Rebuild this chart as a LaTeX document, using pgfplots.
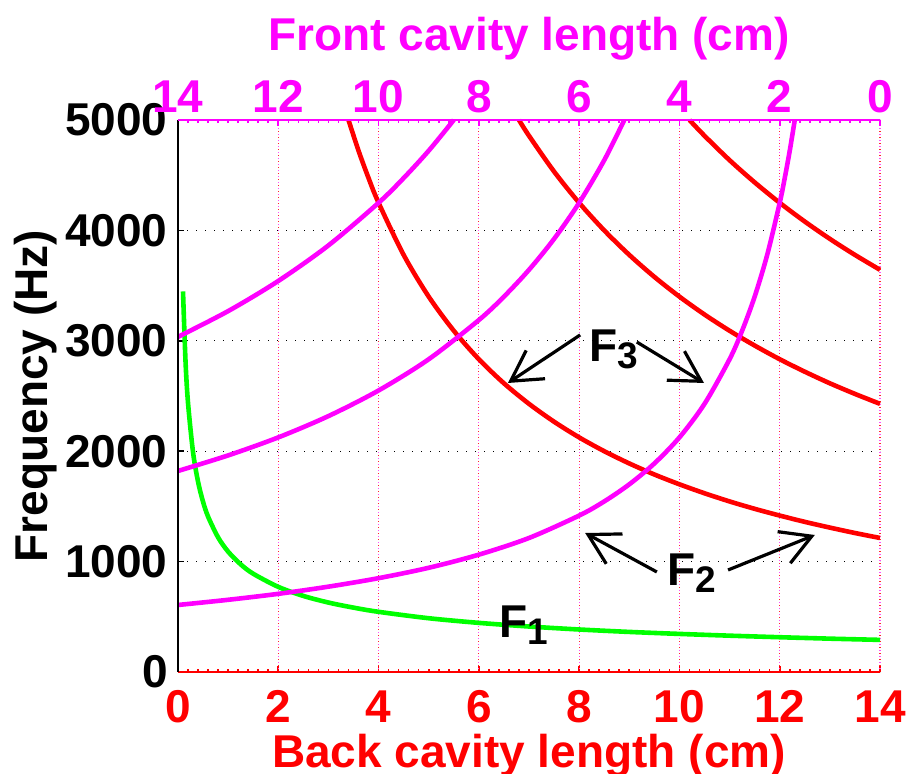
\documentclass[border=0pt]{standalone}
\usepackage{fontspec}
\setmainfont{Liberation Sans}
\usepackage{pgfplots}
\pgfplotsset{compat=1.18}
\usetikzlibrary{arrows.meta}
\definecolor{mag}{RGB}{255,0,255}
\definecolor{rd}{RGB}{255,0,0}
\definecolor{gr}{RGB}{0,255,0}
\newcommand{\bigf}{\fontsize{23}{27}\selectfont\bfseries}
\newcommand{\subf}[1]{\raisebox{-3.5pt}{\fontsize{18.5}{20}\selectfont\bfseries #1}}
\begin{document}
\begin{tikzpicture}
\pgfplotsset{
 common/.style={
  scale only axis, width=351pt, height=276pt, at={(0pt,0pt)}, anchor=south west,
  xmin=0, xmax=14, ymin=0, ymax=5000,
  axis line style={draw=none},
  tick align=inside,
  major tick length=3pt, minor tick length=1.5pt,
  tick style={line width=0.8pt},
  tick label style={font=\bigf},
  label style={font=\bigf},
  xtick={0,2,4,6,8,10,12,14},
  minor x tick num=9,
 }
}
\begin{axis}[common,
  xtick pos=left, ytick pos=left, xticklabel pos=left,
  xticklabels={0,2,4,6,8,10,12,14},
  ytick={0,1000,2000,3000,4000,5000},
  yticklabels={0,1000,2000,3000,4000,5000},
  xticklabel style={rd, anchor=base, yshift=-25.5pt},
  yticklabel style={black, anchor=east, inner sep=0pt, xshift=-5pt},
  every x tick/.append style={rd},
  every y tick/.append style={black},
  xmajorgrids, ymajorgrids,
  major x grid style={rd!85, line width=0.6pt, dash pattern=on 0.6pt off 2.4pt},
  major y grid style={black, line width=0.6pt, dash pattern=on 0.6pt off 3.9pt},
  xlabel={Back cavity length (cm)},
  xlabel style={rd, at={(axis description cs:0.5,-0.1721)}, anchor=base},
  ylabel={Frequency (Hz)},
  ylabel style={black, at={(axis description cs:-0.1852,0.5)}, anchor=base, rotate=0},
]
\addplot[draw=none] coordinates {(0,0)};
\end{axis}
\begin{axis}[common,
  xtick pos=right, xticklabel pos=right,
  hide y axis,
  xticklabels={14,12,10,8,6,4,2,0},
  xticklabel style={mag, anchor=base, yshift=3.5pt},
  every x tick/.append style={mag},
  xmajorgrids,
  major x grid style={mag!70, line width=0.6pt, dash pattern=on 0.6pt off 2.4pt, dash phase=1.5pt},
  xlabel={Front cavity length (cm)},
  xlabel style={mag, at={(axis description cs:0.5,1.1268)}, anchor=base},
  clip=false,
]
% F1 (Helmholtz)
\addplot[gr, line width=2.3pt, smooth] coordinates {
(0.1,3447)(0.15,2814)(0.2,2437)(0.3,1990)(0.4,1723)(0.5,1541)(0.6,1407)(0.8,1219)
(1.0,1090)(1.25,975)(1.5,890)(2,771)(2.5,689)(3,629)(3.5,583)(4,545)(5,487)(6,445)
(7,412)(8,385)(9,363)(10,345)(11,329)(12,315)(13,302)(14,291)};
% back cavity resonances
\addplot[rd, line width=2.3pt, smooth] coordinates {
(3.4,5000)(3.6,4722)(3.8,4474)(4.0,4250)(4.5,3778)(5.0,3400)(5.5,3091)(6.0,2833)
(6.5,2615)(7.0,2429)(7.5,2267)(8.0,2125)(8.5,2000)(9.0,1889)(9.5,1789)(10,1700)
(10.5,1619)(11,1545)(11.5,1478)(12,1417)(12.5,1360)(13,1308)(13.5,1259)(14,1214)};
\addplot[rd, line width=2.3pt, smooth] coordinates {
(6.8,5000)(7.0,4857)(7.5,4533)(8.0,4250)(8.5,4000)(9.0,3778)(9.5,3579)(10,3400)
(10.5,3238)(11,3091)(11.5,2957)(12,2833)(12.5,2720)(13,2615)(13.5,2519)(14,2429)};
\addplot[rd, line width=2.3pt, smooth] coordinates {
(10.2,5000)(10.5,4857)(11,4636)(11.5,4435)(12,4250)(12.5,4080)(13,3923)(13.5,3778)(14,3643)};
% front cavity resonances
\addplot[mag, line width=2.3pt, smooth] coordinates {
(0,607)(1,654)(2,708)(3,773)(4,850)(5,944)(6,1063)(7,1214)(8,1417)(8.5,1545)(9,1700)
(9.5,1889)(10,2125)(10.5,2429)(11,2833)(11.25,3091)(11.5,3400)(11.75,3778)(12,4250)
(12.1,4474)(12.2,4722)(12.3,5000)};
\addplot[mag, line width=2.3pt, smooth] coordinates {
(0,1821)(1,1962)(2,2125)(3,2318)(4,2550)(5,2833)(6,3188)(6.5,3400)(7,3643)(7.5,3923)
(8,4250)(8.5,4636)(8.9,5000)};
\addplot[mag, line width=2.3pt, smooth] coordinates {
(0,3036)(1,3269)(2,3542)(3,3864)(4,4250)(4.5,4474)(5,4722)(5.5,5000)};
% annotations
\node[anchor=base west, inner sep=0pt, font=\bigf] at (axis cs:8.20,2808) {F\subf{3}};
\node[anchor=base west, inner sep=0pt, font=\bigf] at (axis cs:9.75,788) {F\subf{2}};
\node[anchor=base west, inner sep=0pt, font=\bigf] at (axis cs:6.40,317) {F\subf{1}};
\draw[line width=1.6pt, -{Straight Barb[length=15pt, width=17pt]}] (axis cs:8.02,3053) -- (axis cs:6.58,2618);
\draw[line width=1.6pt, -{Straight Barb[length=15pt, width=17pt]}] (axis cs:9.15,2989) -- (axis cs:10.49,2618);
\draw[line width=1.6pt, -{Straight Barb[length=15pt, width=17pt]}] (axis cs:9.55,906) -- (axis cs:8.12,1259);
\draw[line width=1.6pt, -{Straight Barb[length=15pt, width=17pt]}] (axis cs:10.97,924) -- (axis cs:12.70,1241);
% axis lines
\draw[rd, line width=0.8pt] (rel axis cs:0,0) -- (rel axis cs:1,0);
\draw[black, line width=0.8pt] (rel axis cs:0,0) -- (rel axis cs:0,1);
\draw[mag, line width=0.8pt] (rel axis cs:0,1) -- (rel axis cs:1,1);
\end{axis}
\pgfresetboundingbox
\path[use as bounding box] (-89pt,-51pt) rectangle (365pt,336pt);
\end{tikzpicture}
\end{document}
